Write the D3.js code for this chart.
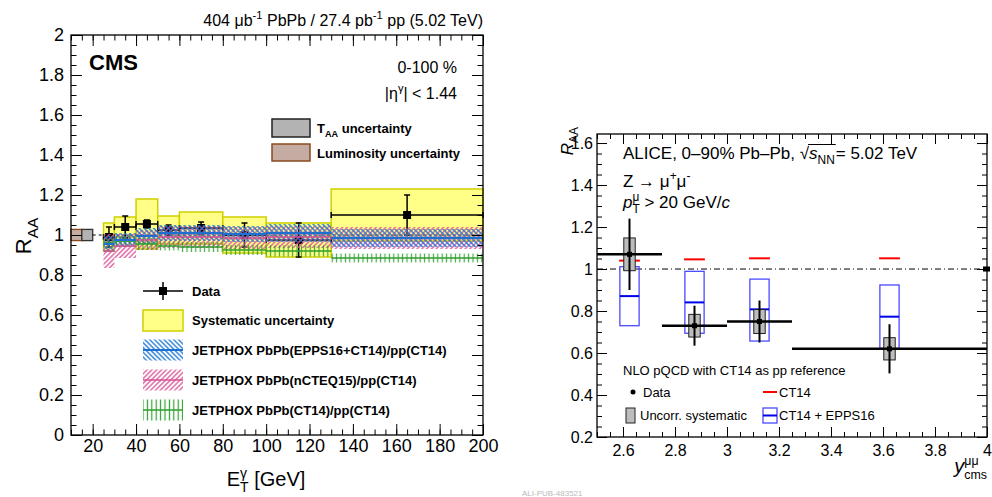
<!DOCTYPE html>
<meta charset="utf-8">
<style>
body { margin: 0; background: #fff; }
svg text { font-family: "Liberation Sans", Arial, Helvetica, sans-serif; }
</style>
<body>
<script src="https://d3js.org/d3.v7.min.js"></script>
<script>
// ---------- CMS panel (isolated photons) ----------
var binLo = [25, 30, 40, 50, 60, 80, 100, 130];
var binHi = [30, 40, 50, 60, 80, 100, 130, 200];
var binCen = [27.5, 35, 45, 55, 70, 90, 115, 165];
var raa = [0.99, 1.04, 1.055, 1.025, 1.035, 1.0, 0.975, 1.10];
var statErr = [0.05, 0.055, 0.02, 0.025, 0.03, 0.06, 0.085, 0.10];
var sysErr = [0.07, 0.05, 0.125, 0.07, 0.08, 0.09, 0.085, 0.13];
// JETPHOX bands (central value, half width)
var eppsC = [0.955, 0.975, 0.995, 1.01, 1.01, 1.005, 1.01, 0.985];
var eppsE = [0.04, 0.035, 0.04, 0.04, 0.04, 0.04, 0.045, 0.045];
var ncteqC = [0.92, 0.945, 0.975, 0.99, 0.99, 0.985, 0.99, 0.985];
var ncteqE = [0.085, 0.06, 0.05, 0.055, 0.055, 0.055, 0.055, 0.055];
var ct14C = [0.96, 0.97, 0.955, 0.945, 0.94, 0.925, 0.92, 0.885];
var ct14E = [0.025, 0.025, 0.03, 0.022, 0.025, 0.025, 0.028, 0.022];
var taaUnc = 0.028, lumiUnc = 0.028;

// ---------- ALICE panel (Z -> mu mu) ----------
var rapLo = [2.5, 2.75, 3.0, 3.25];
var rapHi = [2.75, 3.0, 3.25, 4.0];
var rapCen = [2.625, 2.875, 3.125, 3.625];
var zRaa = [1.07, 0.73, 0.75, 0.62];
var zStat = [0.17, 0.095, 0.10, 0.117];
var zSys = [0.078, 0.054, 0.057, 0.053];
var zCT14 = [1.04, 1.046, 1.051, 1.051];
var zEppsC = [0.871, 0.841, 0.808, 0.773];
var zEppsLo = [0.73, 0.694, 0.657, 0.622];
var zEppsHi = [1.011, 0.989, 0.952, 0.924];

var svg = d3.select("body").append("svg").attr("width", 992).attr("height", 497);
var defs = svg.append("defs");

function hatch(id, color, angle, size, sw) {
  var p = defs.append("pattern").attr("id", id)
      .attr("patternUnits", "userSpaceOnUse")
      .attr("width", size).attr("height", size)
      .attr("patternTransform", "rotate(" + angle + ")");
  p.append("line").attr("x1", size / 2).attr("y1", 0).attr("x2", size / 2).attr("y2", size)
      .attr("stroke", color).attr("stroke-width", sw);
}
hatch("hBlue", "#1f78d8", -45, 3.4, 1.4);
hatch("hPink", "#dc5a9e", 45, 3.4, 1.4);
hatch("hGreen", "#239a23", 0, 4.4, 1.2);

// rich text: parts = [text, "sup"|"sub"|"", backUp, italic]
function rich(t, parts, fs, small) {
  var cur = 0, prev = null, r = small || 0.7;
  parts.forEach(function(p) {
    var shift = p[1] === "sup" ? -0.42 * fs : p[1] === "sub" ? 0.3 * fs : 0;
    var ts = t.append("tspan").attr("dy", shift - cur)
        .attr("font-size", p[1] ? fs * r : fs).text(p[0]);
    if (p[3]) ts.attr("font-style", "italic");
    if (p[2] && prev) ts.attr("dx", -prev.node().getComputedTextLength());
    cur = shift;
    prev = ts;
  });
  if (cur) t.append("tspan").attr("dy", -cur).text("");
  return t;
}

function rootAxes(g, x, y, xMaj, xMin, yMaj, yMin, maj, mnr, fx, fy, fs, padX, padY) {
  var by = y.range()[0], ty = y.range()[1], lx = x.range()[0], rx = x.range()[1];
  function add(fn, sc, vals, len, tr, fmt, pad) {
    var a = fn(sc).tickValues(vals).tickSizeInner(-len).tickSizeOuter(0)
        .tickPadding(pad || 0).tickFormat(fmt || "");
    var s = g.append("g").attr("transform", tr).call(a)
        .attr("font-family", null).attr("font-size", fs);
    s.select(".domain").remove();
    s.selectAll("line").attr("stroke", "#000").attr("stroke-width", 1);
    s.selectAll("text").attr("fill", "#000");
  }
  add(d3.axisBottom, x, xMin, mnr, "translate(0," + by + ")");
  add(d3.axisBottom, x, xMaj, maj, "translate(0," + by + ")", fx, padX);
  add(d3.axisTop, x, xMin, mnr, "translate(0," + ty + ")");
  add(d3.axisTop, x, xMaj, maj, "translate(0," + ty + ")");
  add(d3.axisLeft, y, yMin, mnr, "translate(" + lx + ",0)");
  add(d3.axisLeft, y, yMaj, maj, "translate(" + lx + ",0)", fy, padY);
  add(d3.axisRight, y, yMin, mnr, "translate(" + rx + ",0)");
  add(d3.axisRight, y, yMaj, maj, "translate(" + rx + ",0)");
  g.append("rect").attr("x", lx).attr("y", ty).attr("width", rx - lx).attr("height", by - ty)
      .attr("fill", "none").attr("stroke", "#000").attr("stroke-width", 1.3);
}

// ================= LEFT: CMS =================
var xL = d3.scaleLinear().domain([10, 200]).range([71, 483]);
var yL = d3.scaleLinear().domain([0, 2]).range([435, 35]);
var gL = svg.append("g");
var idx = d3.range(binLo.length);

// systematic boxes
gL.selectAll(".sys").data(idx).join("rect")
    .attr("x", i => xL(binLo[i])).attr("width", i => xL(binHi[i]) - xL(binLo[i]))
    .attr("y", i => yL(raa[i] + sysErr[i]))
    .attr("height", i => yL(raa[i] - sysErr[i]) - yL(raa[i] + sysErr[i]))
    .attr("fill", "#ffff88").attr("stroke", "#d0d000").attr("stroke-width", 1.5);

// luminosity and T_AA boxes
gL.append("rect").attr("x", xL(10)).attr("width", xL(15) - xL(10))
    .attr("y", yL(1 + lumiUnc)).attr("height", yL(1 - lumiUnc) - yL(1 + lumiUnc))
    .attr("fill", "#c4aca2").attr("stroke", "#8b4a1c").attr("stroke-width", 1.3);
gL.append("rect").attr("x", xL(15)).attr("width", xL(20) - xL(15))
    .attr("y", yL(1 + taaUnc)).attr("height", yL(1 - taaUnc) - yL(1 + taaUnc))
    .attr("fill", "#b3b3b3").attr("stroke", "#333").attr("stroke-width", 1.3);

gL.append("line").attr("x1", xL(20)).attr("x2", xL(200)).attr("y1", yL(1)).attr("y2", yL(1))
    .attr("stroke", "#000").attr("stroke-dasharray", "3,3").attr("stroke-width", 1);

// data
var dL = gL.append("g").attr("stroke", "#000").attr("stroke-width", 1.5);
idx.forEach(function(i) {
  var cx = xL(binCen[i]), cy = yL(raa[i]);
  dL.append("line").attr("x1", xL(binLo[i])).attr("x2", xL(binHi[i])).attr("y1", cy).attr("y2", cy);
  dL.append("line").attr("x1", cx).attr("x2", cx).attr("y1", yL(raa[i] + statErr[i])).attr("y2", yL(raa[i] - statErr[i]));
  [raa[i] + statErr[i], raa[i] - statErr[i]].forEach(function(v) {
    dL.append("line").attr("x1", cx - 3).attr("x2", cx + 3).attr("y1", yL(v)).attr("y2", yL(v));
  });
  [binLo[i], binHi[i]].forEach(function(v) {
    dL.append("line").attr("x1", xL(v)).attr("x2", xL(v)).attr("y1", cy - 3).attr("y2", cy + 3);
  });
  dL.append("rect").attr("x", cx - 4).attr("y", cy - 4).attr("width", 8).attr("height", 8)
      .attr("fill", "#000").attr("stroke", "none");
});

// JETPHOX bands
function band(C, E, pat, col, lw, op) {
  var b = gL.append("g").attr("opacity", op);
  idx.forEach(function(i) {
    b.append("rect").attr("x", xL(binLo[i])).attr("width", xL(binHi[i]) - xL(binLo[i]))
        .attr("y", yL(C[i] + E[i])).attr("height", yL(C[i] - E[i]) - yL(C[i] + E[i]))
        .attr("fill", "url(#" + pat + ")");
  });
  return function() {
    idx.forEach(function(i) {
      gL.append("line").attr("x1", xL(binLo[i])).attr("x2", xL(binHi[i]))
          .attr("y1", yL(C[i])).attr("y2", yL(C[i])).attr("stroke", col).attr("stroke-width", lw);
    });
  };
}
var lnPink = band(ncteqC, ncteqE, "hPink", "#d4508e", 1.5, 0.95);
var lnBlue = band(eppsC, eppsE, "hBlue", "#1f6fd0", 2, 0.95);
var lnGreen = band(ct14C, ct14E, "hGreen", "#2e9e2e", 1.5, 0.85);
lnPink(); lnGreen(); lnBlue();

rootAxes(gL, xL, yL,
  d3.range(20, 201, 20), d3.range(0, 39).map(d => 10 + d * 5),
  d3.range(0, 11).map(d => d * 0.2), d3.range(0, 41).map(d => d * 0.05),
  11, 5.5, d => d, d => String(+d.toFixed(1)), 18, 4, 7);

// texts
var tt = svg.append("text").attr("x", 483).attr("y", 26).attr("text-anchor", "end");
rich(tt, [["404 \u03bcb", ""], ["-1", "sup"], [" PbPb / 27.4 pb", ""], ["-1", "sup"], [" pp (5.02 TeV)", ""]], 16);
svg.append("text").attr("x", 89).attr("y", 70).attr("font-size", 22).attr("font-weight", "bold").text("CMS");
svg.append("text").attr("x", 457).attr("y", 73).attr("text-anchor", "end").attr("font-size", 16).text("0-100 %");
rich(svg.append("text").attr("x", 457).attr("y", 99).attr("text-anchor", "end"),
  [["|\u03b7", ""], ["\u03b3", "sup"], ["| < 1.44", ""]], 16);

rich(svg.append("text").attr("transform", "translate(31,236) rotate(-90)").attr("text-anchor", "middle"),
  [["R", ""], ["AA", "sub"]], 22);
rich(svg.append("text").attr("x", 266).attr("y", 486).attr("text-anchor", "middle"),
  [["E", ""], ["\u03b3", "sup"], ["T", "sub", true], [" [GeV]", ""]], 20);

// upper legend
gL.append("rect").attr("x", 272).attr("y", 119).attr("width", 38).attr("height", 18)
    .attr("fill", "#b3b3b3").attr("stroke", "#222").attr("stroke-width", 1.5);
rich(gL.append("text").attr("x", 317).attr("y", 133).attr("font-weight", "bold"),
  [["T", ""], ["AA", "sub"], [" uncertainty", ""]], 13);
gL.append("rect").attr("x", 272).attr("y", 144).attr("width", 38).attr("height", 17)
    .attr("fill", "#c4aca2").attr("stroke", "#8b4a1c").attr("stroke-width", 1.5);
gL.append("text").attr("x", 317).attr("y", 158).attr("font-size", 13).attr("font-weight", "bold")
    .text("Luminosity uncertainty");

// lower legend
var lg = gL.append("g");
lg.append("line").attr("x1", 143).attr("x2", 183).attr("y1", 291).attr("y2", 291).attr("stroke", "#000").attr("stroke-width", 1.5);
lg.append("line").attr("x1", 163).attr("x2", 163).attr("y1", 282).attr("y2", 300).attr("stroke", "#000").attr("stroke-width", 1.5);
lg.append("rect").attr("x", 159).attr("y", 287).attr("width", 8).attr("height", 8).attr("fill", "#000");
lg.append("rect").attr("x", 143).attr("y", 310).attr("width", 40).attr("height", 21)
    .attr("fill", "#ffff88").attr("stroke", "#d0d000").attr("stroke-width", 1.5);
[["hBlue", "#1f6fd0", 350, 2], ["hPink", "#d4508e", 380, 1.5], ["hGreen", "#2e9e2e", 410, 1.5]].forEach(function(e) {
  lg.append("rect").attr("x", 143).attr("y", e[2] - 10.5).attr("width", 40).attr("height", 21)
      .attr("fill", "url(#" + e[0] + ")").attr("opacity", 0.95);
  lg.append("line").attr("x1", 143).attr("x2", 183).attr("y1", e[2]).attr("y2", e[2])
      .attr("stroke", e[1]).attr("stroke-width", e[3]);
});
[["Data", 291], ["Systematic uncertainty", 320], ["JETPHOX PbPb(EPPS16+CT14)/pp(CT14)", 350],
 ["JETPHOX PbPb(nCTEQ15)/pp(CT14)", 380], ["JETPHOX PbPb(CT14)/pp(CT14)", 410]].forEach(function(e) {
  lg.append("text").attr("x", 192).attr("y", e[1] + 4.5).attr("font-size", 13).attr("font-weight", "bold").text(e[0]);
});

// ================= RIGHT: ALICE =================
var xR = d3.scaleLinear().domain([2.5, 4]).range([597, 987]);
var yR = d3.scaleLinear().domain([0.2, 1.643]).range([437, 134]);
var gR = svg.append("g");
var zi = d3.range(rapCen.length);

gR.append("line").attr("x1", xR(2.5)).attr("x2", xR(4)).attr("y1", yR(1)).attr("y2", yR(1))
    .attr("stroke", "#000").attr("stroke-dasharray", "6,3,1,3").attr("stroke-width", 1);

zi.forEach(function(i) {
  var c = rapCen[i];
  // CT14 + EPPS16 box
  gR.append("rect").attr("x", xR(c - 0.037)).attr("width", xR(c + 0.037) - xR(c - 0.037))
      .attr("y", yR(zEppsHi[i])).attr("height", yR(zEppsLo[i]) - yR(zEppsHi[i]))
      .attr("fill", "none").attr("stroke", "#4a4aff").attr("stroke-width", 1.3);
  gR.append("line").attr("x1", xR(c - 0.037)).attr("x2", xR(c + 0.037))
      .attr("y1", yR(zEppsC[i])).attr("y2", yR(zEppsC[i])).attr("stroke", "#0000ee").attr("stroke-width", 2);
  // CT14
  gR.append("line").attr("x1", xR(c - 0.04)).attr("x2", xR(c + 0.04))
      .attr("y1", yR(zCT14[i])).attr("y2", yR(zCT14[i])).attr("stroke", "#ff0000").attr("stroke-width", 2);
  // systematic box
  gR.append("rect").attr("x", xR(c - 0.022)).attr("width", xR(c + 0.022) - xR(c - 0.022))
      .attr("y", yR(zRaa[i] + zSys[i])).attr("height", yR(zRaa[i] - zSys[i]) - yR(zRaa[i] + zSys[i]))
      .attr("fill", "#bdbdbd").attr("stroke", "#222").attr("stroke-width", 1);
  // data
  gR.append("line").attr("x1", xR(rapLo[i])).attr("x2", xR(rapHi[i]))
      .attr("y1", yR(zRaa[i])).attr("y2", yR(zRaa[i])).attr("stroke", "#000").attr("stroke-width", 2.5);
  gR.append("line").attr("x1", xR(c)).attr("x2", xR(c))
      .attr("y1", yR(zRaa[i] + zStat[i])).attr("y2", yR(zRaa[i] - zStat[i])).attr("stroke", "#000").attr("stroke-width", 2);
  gR.append("rect").attr("x", xR(c) - 2.5).attr("y", yR(zRaa[i]) - 2.5).attr("width", 5).attr("height", 5).attr("fill", "#000");
});
// normalisation box at y = 4
gR.append("rect").attr("x", xR(4) - 4).attr("y", yR(1.012)).attr("width", 7).attr("height", yR(0.988) - yR(1.012)).attr("fill", "#000");

rootAxes(gR, xR, yR,
  d3.range(0, 8).map(d => 2.6 + d * 0.2), d3.range(0, 31).map(d => 2.5 + d * 0.05),
  d3.range(0, 8).map(d => 0.2 + d * 0.2), d3.range(0, 29).map(d => 0.2 + d * 0.05),
  10, 5, d => String(+d.toFixed(1)), d => String(+d.toFixed(1)), 16, 8, 4);

rich(gR.append("text").attr("transform", "translate(573,127) rotate(-90)").attr("text-anchor", "end"),
  [["R", "", false, true], ["AA", "sub"]], 17);
rich(gR.append("text").attr("x", 987).attr("y", 473).attr("text-anchor", "end"),
  [["y", "", false, true], ["\u03bc\u03bc", "sup"], ["cms", "sub", true]], 20, 0.62);

// ALICE labels
var fsA = 17;
var a1 = gR.append("text").attr("x", 623).attr("y", 159).attr("font-size", fsA).text("ALICE, 0\u201390% Pb\u2013Pb, \u221a");
var ax = 623 + a1.node().getComputedTextLength();
var a2 = rich(gR.append("text").attr("x", ax).attr("y", 159), [["s", "", false, true], ["NN", "sub"]], fsA);
var ax2 = ax + a2.node().getComputedTextLength();
gR.append("line").attr("x1", ax - 1).attr("x2", ax2 + 1).attr("y1", 144.5).attr("y2", 144.5).attr("stroke", "#000").attr("stroke-width", 1);
gR.append("text").attr("x", ax2 + 1).attr("y", 159).attr("font-size", fsA).text("= 5.02 TeV");
rich(gR.append("text").attr("x", 623).attr("y", 187),
  [["Z \u2192 \u03bc", ""], ["+", "sup"], ["\u03bc", ""], ["-", "sup"]], fsA);
rich(gR.append("text").attr("x", 623).attr("y", 208),
  [["p", "", false, true], ["\u03bc", "sup"], ["T", "sub", true], [" > 20 GeV/", ""], ["c", "", false, true]], fsA);

// ALICE legend
gR.append("text").attr("x", 623).attr("y", 375).attr("font-size", 13).text("NLO pQCD with CT14 as pp reference");
gR.append("circle").attr("cx", 633).attr("cy", 392).attr("r", 2.5).attr("fill", "#000");
gR.append("text").attr("x", 643).attr("y", 397).attr("font-size", 13).text("Data");
gR.append("line").attr("x1", 763).attr("x2", 777).attr("y1", 392).attr("y2", 392).attr("stroke", "#ff0000").attr("stroke-width", 2);
gR.append("text").attr("x", 779).attr("y", 397).attr("font-size", 13).text("CT14");
gR.append("rect").attr("x", 626).attr("y", 408).attr("width", 9).attr("height", 15)
    .attr("fill", "#bdbdbd").attr("stroke", "#222").attr("stroke-width", 1);
gR.append("text").attr("x", 640).attr("y", 420).attr("font-size", 13).text("Uncorr. systematic");
gR.append("rect").attr("x", 763).attr("y", 408).attr("width", 14).attr("height", 15)
    .attr("fill", "none").attr("stroke", "#4a4aff").attr("stroke-width", 1.3);
gR.append("line").attr("x1", 763).attr("x2", 777).attr("y1", 415.5).attr("y2", 415.5).attr("stroke", "#0000ee").attr("stroke-width", 2);
gR.append("text").attr("x", 779).attr("y", 420).attr("font-size", 13).text("CT14 + EPPS16");

svg.append("text").attr("x", 522).attr("y", 496).attr("font-size", 8).attr("fill", "#bbb")
    .attr("font-family", "DejaVu Sans Mono").text("ALI-PUB-483521");
</script>
</body>
